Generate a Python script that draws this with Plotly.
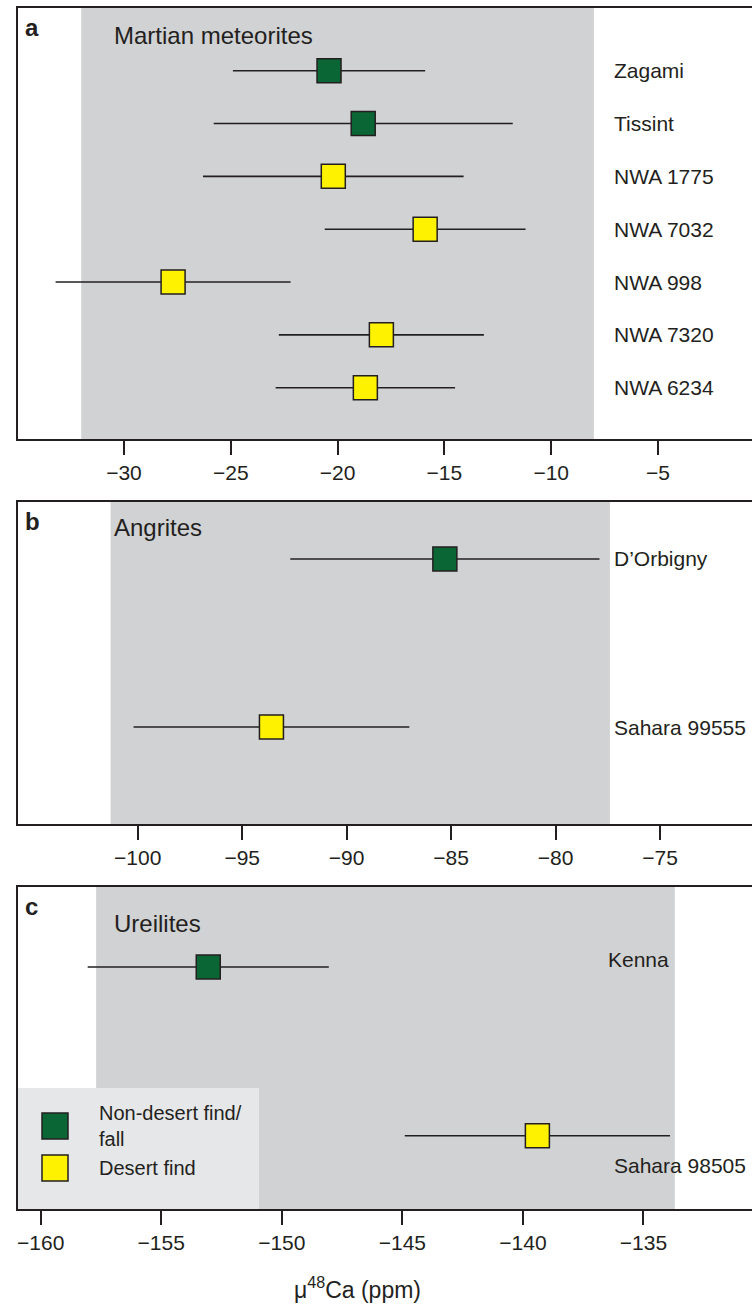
import plotly.graph_objects as go

# ---------------- data ----------------
martian_names = ["Zagami", "Tissint", "NWA 1775", "NWA 7032", "NWA 998", "NWA 7320", "NWA 6234"]
martian_vals = [-20.4, -18.8, -20.2, -15.9, -27.7, -17.95, -18.7]
martian_errs = [4.5, 7.0, 6.1, 4.7, 5.5, 4.8, 4.2]
martian_types = ["fall", "fall", "desert", "desert", "desert", "desert", "desert"]
martian_band = [-32.0, -8.0]

angrite_names = ["D\u2019Orbigny", "Sahara 99555"]
angrite_vals = [-85.3, -93.6]
angrite_errs = [7.4, 6.6]
angrite_types = ["fall", "desert"]
angrite_band = [-101.3, -77.4]

ureilite_names = ["Kenna", "Sahara 98505"]
ureilite_vals = [-153.05, -139.4]
ureilite_errs = [5.0, 5.5]
ureilite_types = ["fall", "desert"]
ureilite_band = [-157.7, -133.7]

xticks_a = [-30, -25, -20, -15, -10, -5]
xticks_b = [-100, -95, -90, -85, -80, -75]
xticks_c = [-160, -155, -150, -145, -140, -135]

legend_labels = ["Non-desert find/<br>fall", "Desert find"]

# ---------------- style ----------------
W, H = 752, 1304
ML = 18
PW = W - ML
FONT = "Liberation Sans, Arial, Helvetica, sans-serif"
INK = "#231f20"
COLORS = {"fall": "#0a6634", "desert": "#fff200"}
BAND = "#d1d2d4"
LEGBG = "#e6e7e8"


def fx(px):
    return (px - ML) / PW


def fy(py):
    return (H - py) / H


panels = [
    dict(sfx="", names=martian_names, vals=martian_vals, errs=martian_errs, types=martian_types,
         band=martian_band, ticks=xticks_a, xr=[-34.96, -0.6], yr=[-0.971, 7.187],
         top=8, bottom=439, letter="a", title="Martian meteorites", title_y=36,
         label_x=612, label_shift={}),
    dict(sfx="2", names=angrite_names, vals=angrite_vals, errs=angrite_errs, types=angrite_types,
         band=angrite_band, ticks=xticks_b, xr=[-105.73, -70.6], yr=[-0.577, 1.339],
         top=502, bottom=824, letter="b", title="Angrites", title_y=527,
         label_x=612, label_shift={}),
    dict(sfx="3", names=ureilite_names, vals=ureilite_vals, errs=ureilite_errs, types=ureilite_types,
         band=ureilite_band, ticks=xticks_c, xr=[-160.94, -130.5], yr=[-0.4345, 1.474],
         top=887, bottom=1209, letter="c", title="Ureilites", title_y=923,
         label_x=612, label_shift={"Kenna": (-6, 7), "Sahara 98505": (0, -30)}),
]

fig = go.Figure()
shapes = []
annotations = []
layout_axes = {}

for p in panels:
    s = p["sfx"]
    xa, ya = "x" + s, "y" + s
    cat_order = list(reversed(p["names"]))

    fig.add_trace(go.Scatter(
        x=p["vals"], y=p["names"], mode="markers",
        marker=dict(symbol="square", size=24,
                    color=[COLORS[t] for t in p["types"]],
                    line=dict(color=INK, width=1.5)),
        error_x=dict(type="data", array=p["errs"], symmetric=True,
                     width=0, thickness=1.6, color=INK),
        xaxis=xa, yaxis=ya, showlegend=False, hoverinfo="skip",
    ))

    dom = [fy(p["bottom"]), fy(p["top"])]
    layout_axes["xaxis" + s] = dict(
        domain=[0, 1], anchor=ya, range=p["xr"], tickvals=p["ticks"],
        ticks="outside", ticklen=14, tickwidth=1.5, tickcolor=INK,
        showline=True, mirror=True, linecolor=INK, linewidth=1.8,
        showgrid=False, zeroline=False, automargin=False,
        tickfont=dict(family=FONT, size=21, color=INK),
    )
    layout_axes["yaxis" + s] = dict(
        domain=dom, anchor=xa, type="category", categoryorder="array",
        categoryarray=cat_order, range=p["yr"],
        showticklabels=False, ticks="", showline=True, linecolor=INK,
        linewidth=1.8, showgrid=False, zeroline=False, automargin=False,
    )

    # reference band
    shapes.append(dict(type="rect", xref=xa, yref=ya + " domain",
                       x0=p["band"][0], x1=p["band"][1], y0=0, y1=1,
                       fillcolor=BAND, line=dict(width=0), layer="below"))

    # sample labels
    for name in p["names"]:
        dx, dy = p["label_shift"].get(name, (0, 0))
        annotations.append(dict(
            x=fx(p["label_x"] + dx), xref="paper", y=cat_order.index(name), yref=ya,
            text=name, showarrow=False, xanchor="left", yanchor="middle", yshift=dy,
            font=dict(family=FONT, size=21, color=INK)))

    # panel letter + title
    annotations.append(dict(x=fx(23), y=fy(p["top"] + 19), xref="paper", yref="paper",
                            text="<b>" + p["letter"] + "</b>", showarrow=False,
                            xanchor="left", yanchor="middle",
                            font=dict(family=FONT, size=24, color=INK)))
    annotations.append(dict(x=fx(112), y=fy(p["title_y"]), xref="paper", yref="paper",
                            text=p["title"], showarrow=False,
                            xanchor="left", yanchor="middle",
                            font=dict(family=FONT, size=24, color=INK)))

# legend box (panel c)
shapes.append(dict(type="rect", xref="paper", yref="paper",
                   x0=fx(18), x1=fx(259), y0=fy(1209), y1=fy(1088),
                   fillcolor=LEGBG, line=dict(width=0), layer="below"))
leg_rows = [(1126, "fall"), (1168, "desert")]
for (cy, t), lab in zip(leg_rows, legend_labels):
    shapes.append(dict(type="rect", xref="paper", yref="paper",
                       x0=fx(55 - 13), x1=fx(55 + 13), y0=fy(cy + 13), y1=fy(cy - 13),
                       fillcolor=COLORS[t], line=dict(color=INK, width=1.5), layer="above"))
    annotations.append(dict(x=fx(97), y=fy(cy), xref="paper", yref="paper",
                            text=lab, showarrow=False, xanchor="left", yanchor="middle",
                            align="left",
                            font=dict(family=FONT, size=20, color=INK)))

# axis title
annotations.append(dict(x=fx(357), y=fy(1288), xref="paper", yref="paper",
                        text="\u03bc<sup>48</sup>Ca (ppm)", showarrow=False,
                        xanchor="center", yanchor="middle",
                        font=dict(family=FONT, size=23, color=INK)))

fig.update_layout(
    width=W, height=H, template="none",
    margin=dict(l=ML, r=0, t=0, b=0),
    paper_bgcolor="white", plot_bgcolor="white",
    showlegend=False, shapes=shapes, annotations=annotations,
    font=dict(family=FONT, color=INK),
    **layout_axes,
)

fig.write_html("out.html")
